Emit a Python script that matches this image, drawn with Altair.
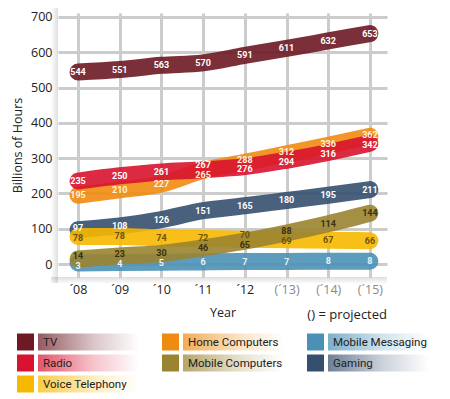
import json
import altair as alt
import pandas as pd

# ---------------- data ----------------
years = ["´08", "´09", "´10", "´11", "´12", "(´13)", "(´14)", "(´15)"]
series = ["TV", "Home Computers", "Radio", "Gaming", "Voice Telephony",
          "Mobile Messaging", "Mobile Computers"]
tv = [544, 551, 563, 570, 591, 611, 632, 653]
radio = [235, 250, 261, 267, 276, 294, 316, 342]
home_computers = [195, 210, 227, 265, 288, 312, 336, 362]
gaming = [97, 108, 126, 151, 165, 180, 195, 211]
voice_telephony = [78, 78, 74, 72, 70, 69, 67, 66]
mobile_computers = [14, 23, 30, 46, 65, 88, 114, 144]
mobile_messaging = [3, 4, 5, 6, 7, 7, 8, 8]

values = {
    "TV": tv, "Radio": radio, "Home Computers": home_computers,
    "Gaming": gaming, "Voice Telephony": voice_telephony,
    "Mobile Computers": mobile_computers, "Mobile Messaging": mobile_messaging,
}
colors = {
    "TV": "#6d1a24", "Radio": "#d8132f", "Home Computers": "#ef8b10",
    "Gaming": "#35506f", "Voice Telephony": "#f8b800",
    "Mobile Computers": "#9a8430", "Mobile Messaging": "#4b91b6",
}
text_colors = {
    "TV": "#ffffff", "Radio": "#ffffff", "Home Computers": "#fff3dc",
    "Gaming": "#ffffff", "Voice Telephony": "#6a5410",
    "Mobile Computers": "#3a3010", "Mobile Messaging": "#e8f2f8",
}
legend_cols = [["TV", "Radio", "Voice Telephony"],
               ["Home Computers", "Mobile Computers"],
               ["Mobile Messaging", "Gaming"]]

# label positions: nudge labels that would collide
MIN_SEP = 28
label_pos = {s: list(v) for s, v in values.items()}
for i in range(len(years)):
    items = sorted(values.keys(), key=lambda s: values[s][i])
    pos = [values[s][i] for s in items]
    for _ in range(30):
        for k in range(len(pos) - 1):
            gap = pos[k + 1] - pos[k]
            if gap < MIN_SEP:
                d = (MIN_SEP - gap) / 2
                pos[k] -= d
                pos[k + 1] += d
    for s, p in zip(items, pos):
        label_pos[s][i] = p

rows = []
for s in series:
    for i, y in enumerate(years):
        rows.append({"series": s, "idx": i, "year": y,
                     "value": values[s][i], "ly": label_pos[s][i]})
df = pd.DataFrame(rows)

W, H = 329, 264
label_expr = json.dumps(years, ensure_ascii=False) + "[datum.value]"

x_enc = alt.X("idx:Q",
              scale=alt.Scale(domain=[-0.48, 7.41], nice=False, zero=False),
              axis=alt.Axis(values=list(range(8)), labelExpr=label_expr,
                            title="Year", labelPadding=6, titlePadding=11,
                            labelColor={"condition": {"test": "datum.value >= 5", "value": "#8a8a8a"},
                                        "value": "#222222"}))
y_scale = alt.Scale(domain=[-36.8, 711.3], nice=False, zero=False)
y_axis = alt.Axis(values=[0, 100, 200, 300, 400, 500, 600, 700],
                  title="Billions of Hours", labelPadding=6, titlePadding=6)


def hex_rgba(h, a):
    h = h.lstrip("#")
    r, g, b = int(h[0:2], 16), int(h[2:4], 16), int(h[4:6], 16)
    return f"rgba({r},{g},{b},{a})"


layers = []

# panel shadow
layers.append(alt.Chart(alt.Data(values=[{}])).mark_rect(
    fill=alt.Gradient(gradient="linear", x1=0, x2=1, y1=0, y2=0,
                      stops=[alt.GradientStop(color="rgba(0,0,0,0)", offset=0),
                             alt.GradientStop(color="rgba(0,0,0,0.13)", offset=1)])
).encode(x=alt.value(-7), x2=alt.value(0), y=alt.value(-5), y2=alt.value(H + 6)))
layers.append(alt.Chart(alt.Data(values=[{}])).mark_rect(
    fill=alt.Gradient(gradient="linear", x1=0, x2=0, y1=0, y2=1,
                      stops=[alt.GradientStop(color="rgba(0,0,0,0.13)", offset=0),
                             alt.GradientStop(color="rgba(0,0,0,0)", offset=1)])
).encode(x=alt.value(-7), x2=alt.value(W), y=alt.value(H), y2=alt.value(H + 7)))

for s in series:
    layers.append(
        alt.Chart(df).transform_filter(alt.datum.series == s)
        .mark_line(color=colors[s], strokeWidth=17, strokeCap="round",
                   strokeJoin="round", interpolate="monotone", opacity=0.9)
        .encode(x=x_enc, y=alt.Y("value:Q", scale=y_scale, axis=y_axis))
    )
for s in series:
    layers.append(
        alt.Chart(df).transform_filter(alt.datum.series == s)
        .mark_text(color=text_colors[s], fontSize=9, fontWeight="bold",
                   font="Liberation Sans Narrow, Roboto, sans-serif")
        .encode(x=x_enc, y=alt.Y("ly:Q", scale=y_scale, axis=y_axis),
                text="value:Q")
    )

# projected note
layers.append(alt.Chart(alt.Data(values=[{}])).mark_text(
    text="() = projected", align="right", baseline="middle", fontSize=13,
    font="Open Sans", color="#222222").encode(x=alt.value(W), y=alt.value(302)))

# custom legend
col_x = [-41, 104, 249]
row_y = [329, 350, 371]
for c, names in enumerate(legend_cols):
    for r, name in enumerate(names):
        x0, yc = col_x[c], row_y[r]
        col = colors[name]
        layers.append(alt.Chart(alt.Data(values=[{}])).mark_rect(color=col).encode(
            x=alt.value(x0), x2=alt.value(x0 + 17),
            y=alt.value(yc - 8.5), y2=alt.value(yc + 8.5)))
        layers.append(alt.Chart(alt.Data(values=[{}])).mark_rect(
            fill=alt.Gradient(gradient="linear", x1=0, x2=1, y1=0, y2=0,
                              stops=[alt.GradientStop(color=hex_rgba(col, 0.72), offset=0),
                                     alt.GradientStop(color=hex_rgba(col, 0.25), offset=0.55),
                                     alt.GradientStop(color=hex_rgba(col, 0.0), offset=1)])
        ).encode(x=alt.value(x0 + 21), x2=alt.value(x0 + 122),
                 y=alt.value(yc - 8.5), y2=alt.value(yc + 8.5)))
        layers.append(alt.Chart(alt.Data(values=[{}])).mark_text(
            text=name, align="left", baseline="middle", fontSize=11.5,
            font="Liberation Sans Narrow, Roboto, sans-serif", color="#222222"
        ).encode(x=alt.value(x0 + 26), y=alt.value(yc + 0.5)))

chart = alt.layer(*layers).properties(
    width=W, height=H,
    autosize=alt.AutoSizeParams(type="none"),
    padding={"left": 50, "top": 5, "right": 55, "bottom": 121},
).configure_view(stroke=None).configure_axis(
    gridColor="#cccccc", gridWidth=3, domain=False, ticks=False,
    labelFont="Open Sans", labelFontSize=12.5, labelColor="#222222",
    titleFont="Open Sans", titleFontSize=12.5, titleFontWeight="normal",
    titleColor="#222222",
)

chart.save("out.html", embed_options={"renderer": "svg", "actions": False})
